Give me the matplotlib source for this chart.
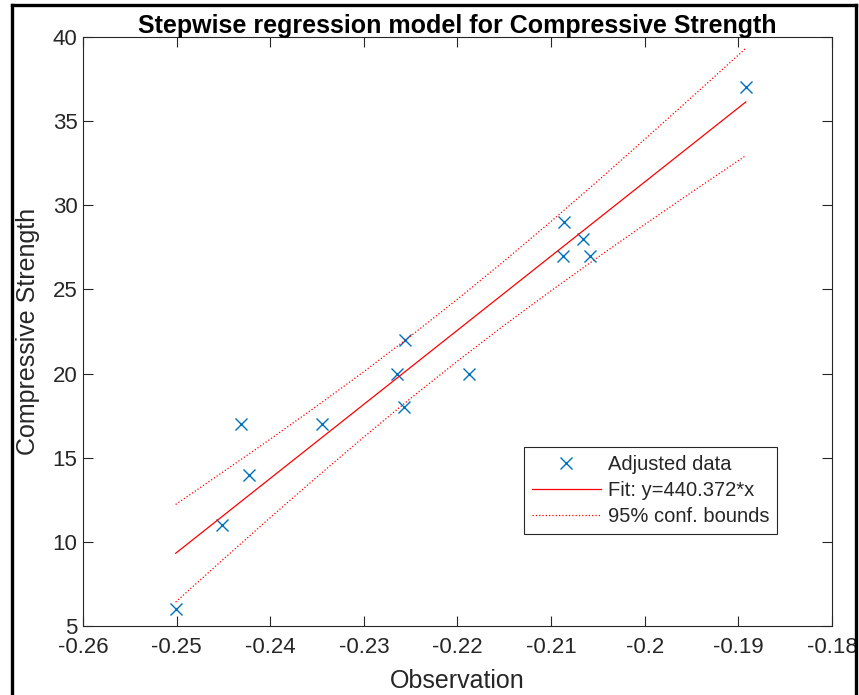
import numpy as np
import matplotlib
matplotlib.use("Agg")
import matplotlib.pyplot as plt
from matplotlib.lines import Line2D

plt.rcParams['font.family'] = ['Liberation Sans', 'DejaVu Sans']

# adjusted data
obs = [-0.2451, -0.2501, -0.2431, -0.2423, -0.2345, -0.2265, -0.2256,
       -0.2257, -0.2188, -0.2087, -0.2086, -0.2066, -0.2058, -0.1892]
strength = [11, 6, 17, 14, 17, 20, 22, 18, 20, 27, 29, 28, 27, 37]

# fit line end points
fit_x = [-0.2501, -0.1892]
fit_y = [9.32, 36.14]

# 95% confidence bounds read at a few points
bound_x = [-0.2501, -0.245, -0.24, -0.235, -0.23, -0.225, -0.22,
           -0.215, -0.21, -0.205, -0.2, -0.195, -0.1892]
upper = [12.22, 14.17, 16.10, 18.08, 20.11, 22.23, 24.42,
         26.69, 29.04, 31.45, 33.92, 36.41, 39.33]
lower = [6.42, 8.97, 11.44, 13.86, 16.23, 18.53, 20.74,
         22.87, 24.92, 26.91, 28.86, 30.77, 32.95]

xticks = [-0.26, -0.25, -0.24, -0.23, -0.22, -0.21, -0.2, -0.19, -0.18]
xticklabels = ['-0.26', '-0.25', '-0.24', '-0.23', '-0.22', '-0.21', '-0.2', '-0.19', '-0.18']
yticks = [5, 10, 15, 20, 25, 30, 35, 40]

fig = plt.figure(figsize=(8.59, 6.95), dpi=100)
ax = fig.add_axes([0.0966, 0.0993, 0.8719, 0.8475])

blue = '#0072BD'
ax.plot(obs, strength, 'x', color=blue, markersize=8, markeredgewidth=1.0,
        label='Adjusted data')
ax.plot(fit_x, fit_y, '-', color='red', linewidth=0.9, label='Fit: y=440.372*x')
ax.plot(bound_x, upper, ':', color='red', linewidth=0.9, label='95% conf. bounds')
ax.plot(bound_x, lower, ':', color='red', linewidth=0.9)

ax.set_xlim(-0.26, -0.18)
ax.set_ylim(5, 40)
ax.set_xticks(xticks)
ax.set_xticklabels(xticklabels)
ax.set_yticks(yticks)

dark = '#262626'
ax.tick_params(direction='in', top=True, right=True, length=7, width=0.8,
               labelsize=16, colors=dark, pad=4)
ax.tick_params(axis='x', pad=8)
for s in ax.spines.values():
    s.set_color(dark)
    s.set_linewidth(0.8)

ax.set_xlabel('Observation', fontsize=18, color=dark, labelpad=8)
ax.set_ylabel('Compressive Strength', fontsize=18, color=dark, labelpad=9)
ax.set_title('Stepwise regression model for Compressive Strength',
             fontsize=18, fontweight='bold', pad=3)

leg = ax.legend(loc='upper left', bbox_to_anchor=(0.589, 0.304), borderaxespad=0,
                fontsize=14.5, handlelength=3.4, handletextpad=0.35,
                labelspacing=0.35, borderpad=0.4, fancybox=False, framealpha=1)
leg.get_frame().set_edgecolor(dark)
leg.get_frame().set_linewidth(0.8)
for t in leg.get_texts():
    t.set_color(dark)

# black frame around the figure
W, H = 859, 695
for xs, ys in [([12, 12], [0, H - 4.5]), ([12, 856], [H - 4.5, H - 4.5]),
               ([856, 856], [0, H - 4.5])]:
    fig.add_artist(Line2D(np.array(xs) / W, np.array(ys) / H,
                          color='black', linewidth=2.4, transform=fig.transFigure))

fig.savefig('out.png', dpi=100)
